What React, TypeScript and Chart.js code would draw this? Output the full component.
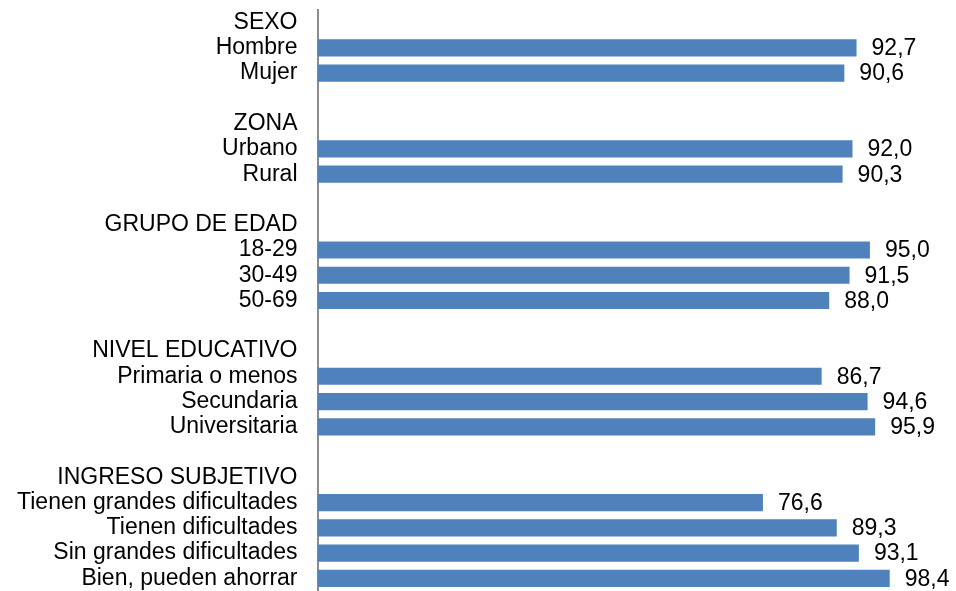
import React, { useEffect, useRef } from "react";
import { Chart, registerables } from "chart.js";

Chart.register(...registerables);

const categories: string[] = [
  "SEXO", "Hombre", "Mujer", "",
  "ZONA", "Urbano", "Rural", "",
  "GRUPO DE EDAD", "18-29", "30-49", "50-69", "",
  "NIVEL EDUCATIVO", "Primaria o menos", "Secundaria", "Universitaria", "",
  "INGRESO SUBJETIVO", "Tienen grandes dificultades", "Tienen dificultades", "Sin grandes dificultades", "Bien, pueden ahorrar",
];

const values: (number | null)[] = [
  null, 92.7, 90.6, null,
  null, 92.0, 90.3, null,
  null, 95.0, 91.5, 88.0, null,
  null, 86.7, 94.6, 95.9, null,
  null, 76.6, 89.3, 93.1, 98.4,
];

const FONT = '"Liberation Sans", Arial, sans-serif';

const valueLabels = {
  id: "valueLabels",
  afterDatasetsDraw(chart: any) {
    const ctx = chart.ctx;
    const meta = chart.getDatasetMeta(0);
    ctx.save();
    ctx.font = `23px ${FONT}`;
    ctx.fillStyle = "#000000";
    ctx.textAlign = "left";
    ctx.textBaseline = "middle";
    meta.data.forEach((el: any, i: number) => {
      const v = values[i];
      if (v === null || v === undefined) return;
      ctx.fillText(v.toFixed(1).replace(".", ","), el.x + 15, el.y + 1);
    });
    ctx.restore();
  },
};

export default function App() {
  const ref = useRef<HTMLCanvasElement | null>(null);
  useEffect(() => {
    document.body.style.margin = "0";
    if (!ref.current) return;
    const chart = new Chart(ref.current, {
      type: "bar",
      data: {
        labels: categories,
        datasets: [
          {
            data: values as any,
            backgroundColor: "#4F81BD",
            borderWidth: 0,
            barPercentage: 0.68,
            categoryPercentage: 1,
          },
        ],
      },
      options: {
        indexAxis: "y",
        animation: false,
        responsive: false,
        layout: { padding: { top: 10, right: 57, bottom: 0, left: 0 } },
        plugins: {
          legend: { display: false },
          tooltip: { enabled: false },
        },
        scales: {
          x: {
            display: false,
            min: 0,
            max: 100,
          },
          y: {
            afterFit: (scale: any) => {
              scale.width = 317.5;
              scale.paddingTop = 0;
              scale.paddingBottom = 0;
            },
            grid: { display: false, drawTicks: false },
            border: { display: true, color: "#8C8C8C", width: 2 },
            ticks: {
              autoSkip: false,
              padding: 20,
              color: "#000000",
              font: { family: FONT, size: 23 },
            },
          },
        },
      },
      plugins: [valueLabels],
    });
    return () => chart.destroy();
  }, []);
  return <canvas ref={ref} width={956} height={591} />;
}
